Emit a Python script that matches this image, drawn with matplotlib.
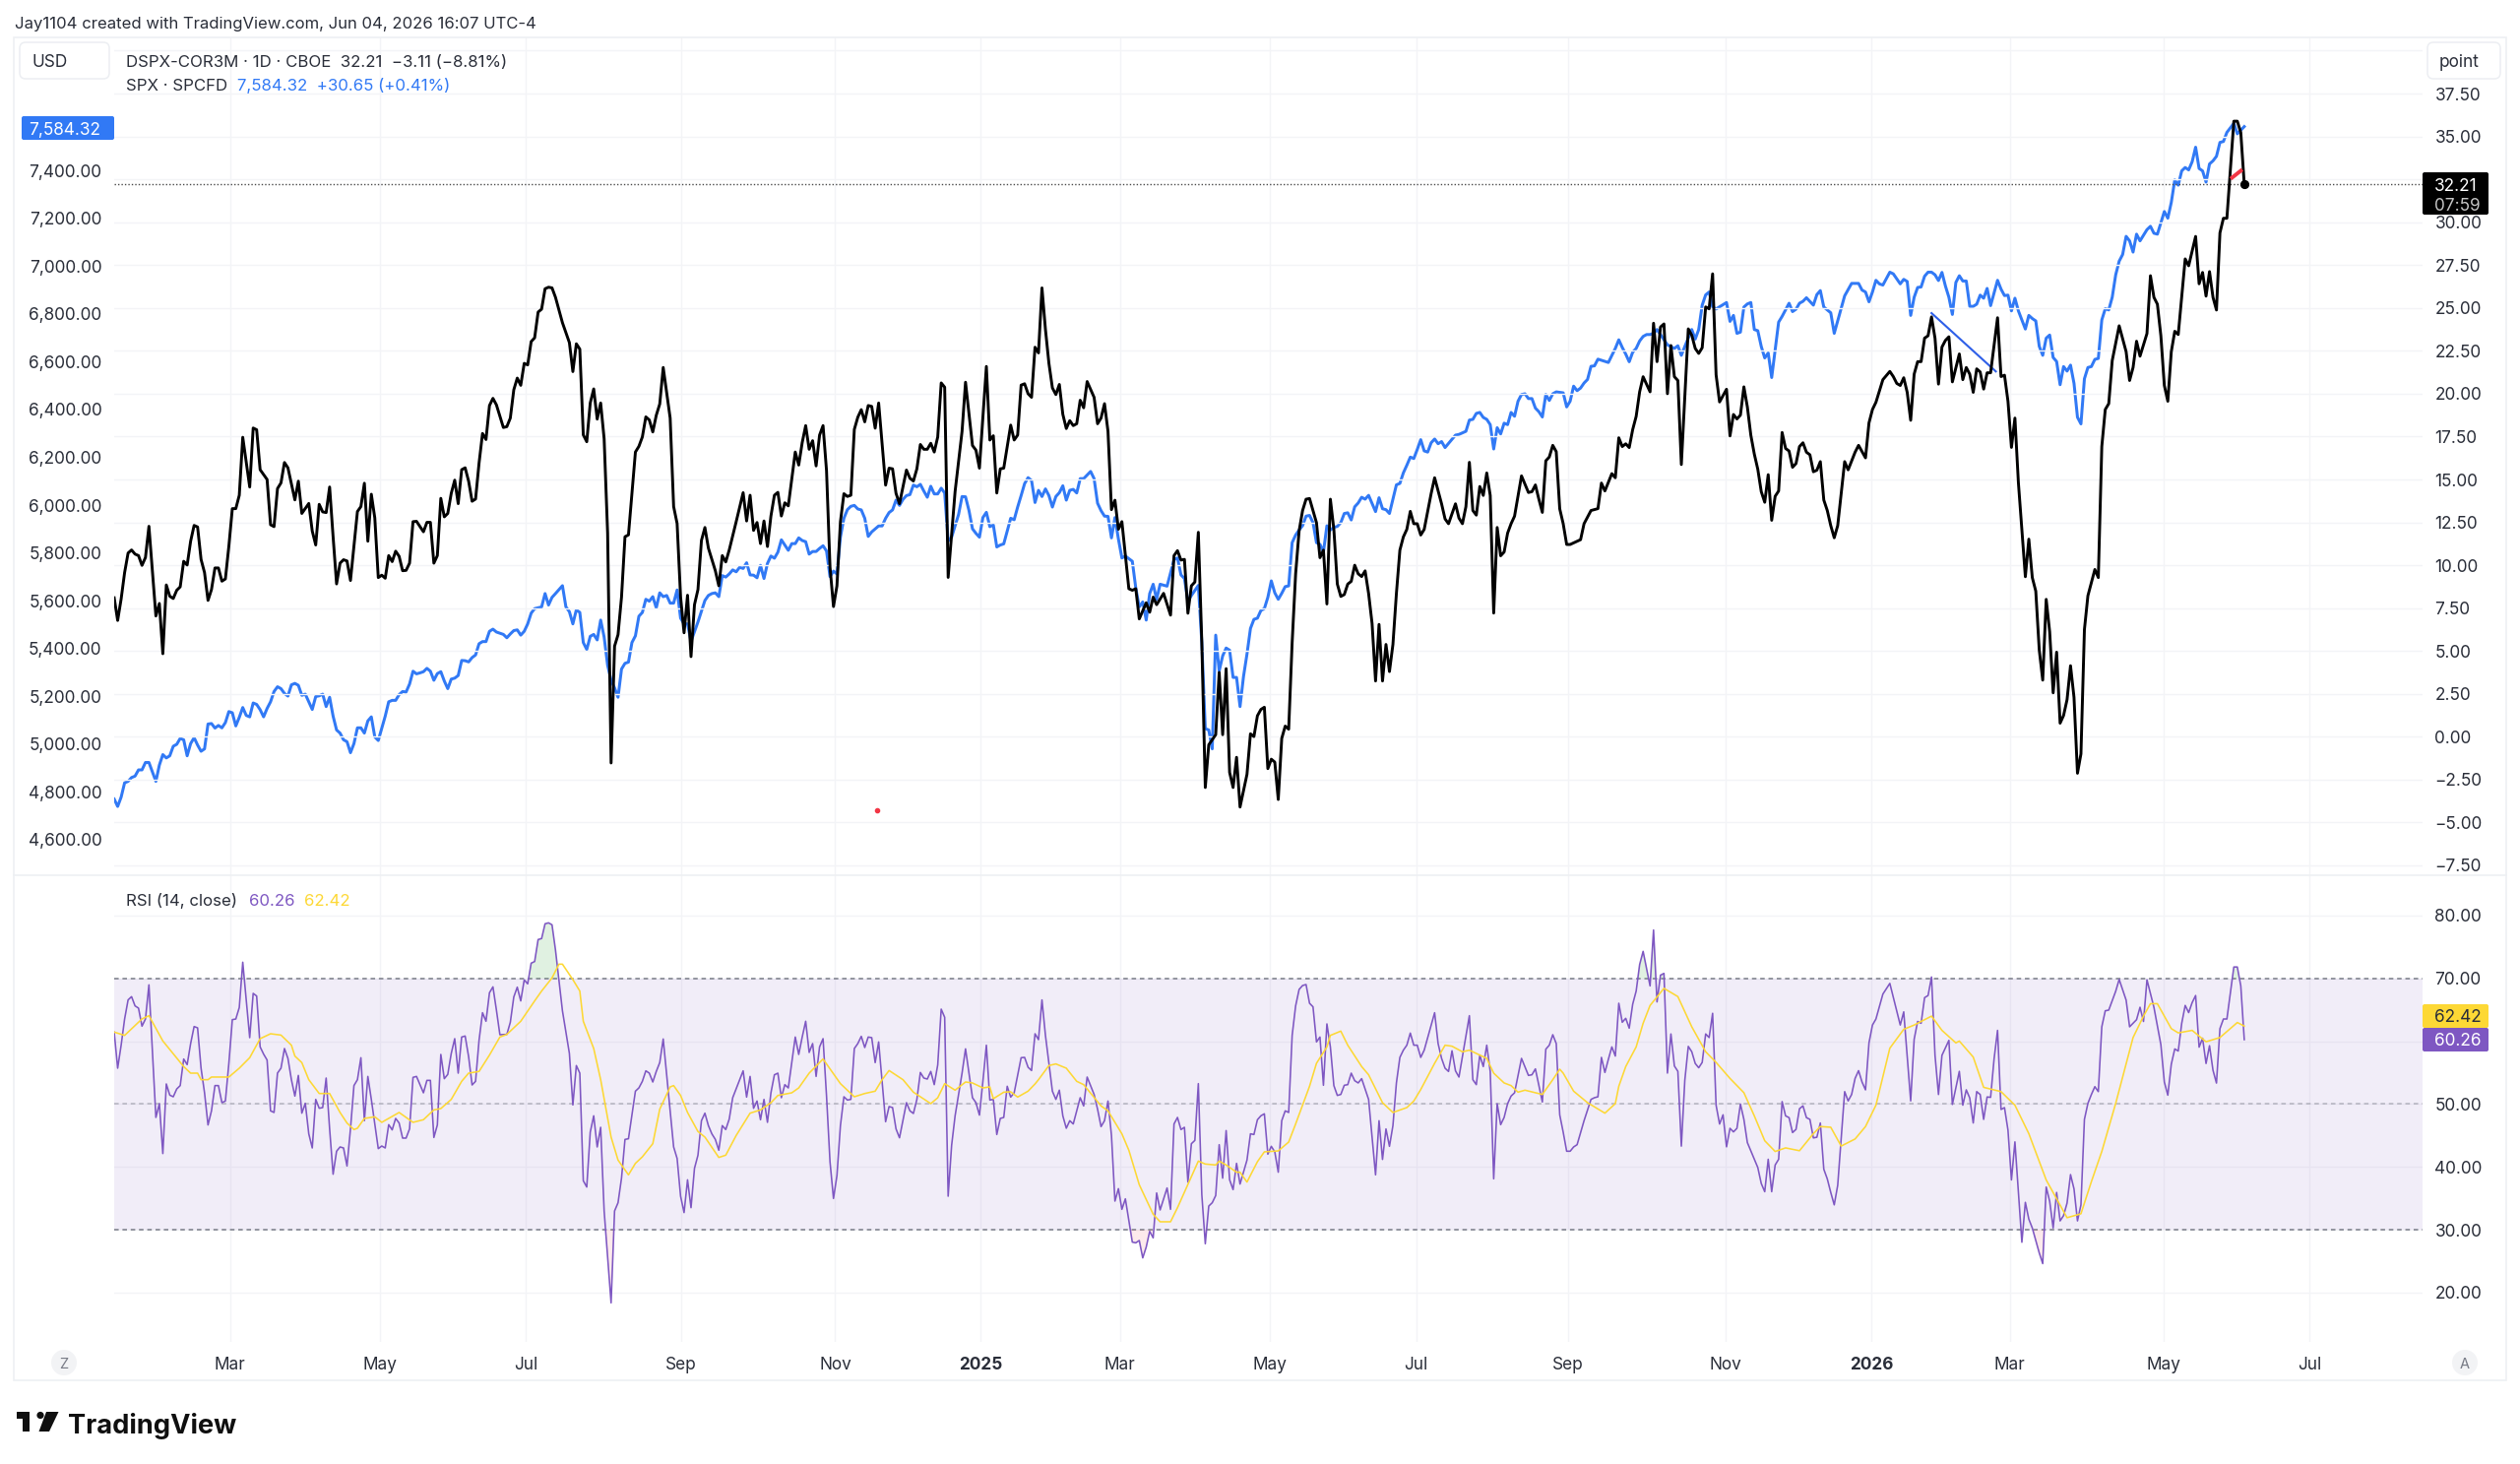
import numpy as np
import matplotlib
matplotlib.use("Agg")
import matplotlib.pyplot as plt
from matplotlib.patches import FancyBboxPatch, Polygon, Circle, Rectangle

plt.rcParams['font.family'] = ['Inter', 'DejaVu Sans']

# (bar number, value), bar 0 = first bar on the chart
dspx_points = [
(0,8.10),(1,6.78),(2,8.03),(3,9.57),(4,10.71),(5,10.89),(6,10.65),(7,10.56),(8,9.99),(9,10.45),(10,12.27),(12,7.04),(13,7.77),(14,4.84),(15,8.85),(16,8.19),(17,8.06),(18,8.54),(19,8.74),(20,10.23),
(21,10.01),(22,11.40),(23,12.32),(24,12.23),(25,10.34),(26,9.57),(27,7.95),(28,8.58),(29,9.84),(30,9.84),(31,9.07),(32,9.2),(33,11.11),(34,13.3),(35,13.3),(36,14.08),(37,17.46),(39,14.56),(40,18.0),(41,17.9),
(42,15.57),(43,15.29),(44,15.0),(45,12.36),(46,12.25),(47,14.47),(48,14.8),(49,15.99),(50,15.68),(51,14.74),(52,13.81),(53,14.9),(54,13.02),(56,13.6),(57,11.99),(58,11.18),(59,13.55),(60,13.11),(61,13.07),(62,14.56),
(63,11.66),(64,8.91),(65,10.12),(66,10.32),(67,10.25),(68,9.11),(69,11.11),(70,13.13),(71,13.42),(72,14.78),(73,11.4),(74,14.14),(75,12.76),(76,9.28),(77,9.42),(78,9.24),(79,10.56),(80,10.21),(81,10.82),(82,10.52),
(83,9.68),(84,9.7),(85,10.12),(86,12.54),(87,12.56),(89,11.95),(90,12.5),(91,12.5),(92,10.12),(93,10.56),(94,13.9),(95,12.82),(96,13.02),(97,14.19),(98,14.96),(99,13.59),(100,15.57),(101,15.68),(102,14.9),(103,13.73),
(104,13.86),(105,15.95),(106,17.68),(107,17.33),(108,19.31),(109,19.73),(110,19.35),(112,18.03),(113,18.08),(114,18.58),(115,20.23),(116,20.91),(117,20.49),(118,21.77),(119,21.68),(120,23.04),(121,23.26),(122,24.76),(123,24.93),(124,26.12),
(125,26.21),(126,26.17),(127,25.62),(129,24.14),(131,22.98),(132,21.29),(133,22.91),(134,22.6),(135,17.6),(136,17.2),(137,19.46),(138,20.28),(139,18.52),(140,19.46),(141,17.37),(142,11.88),(143,-1.53),(144,5.28),(145,5.95),(146,8.14),
(147,11.66),(148,11.77),(150,16.6),(151,16.93),(152,17.48),(153,18.65),(154,18.47),(155,17.77),(156,18.74),(157,19.4),(158,21.53),(160,18.58),(161,13.42),(162,12.43),(163,8.14),(164,6.06),(165,8.25),(166,4.67),(167,7.7),(168,8.58),
(169,11.44),(170,12.2),(171,11.0),(172,10.34),(173,9.68),(174,8.8),(175,10.56),(176,10.19),(177,10.89),(179,12.54),(181,14.23),(182,12.58),(183,14.08),(184,12.03),(185,12.49),(186,11.26),(187,12.58),(188,11.09),(189,12.87),(190,14.08),
(191,14.25),(192,12.87),(193,13.64),(194,13.46),(196,16.6),(197,15.84),(198,17.15),(199,18.14),(200,16.76),(201,17.26),(202,15.79),(203,17.59),(204,18.14),(205,15.51),(206,9.9),(207,7.59),(208,8.8),(209,12.54),(210,14.17),(211,14.01),
(212,14.08),(213,17.92),(214,18.63),(215,19.07),(216,18.36),(217,19.31),(218,19.26),(219,17.99),(220,19.46),(222,14.67),(223,15.66),(224,15.62),(225,14.19),(226,13.59),(228,15.55),(229,15.07),(230,14.91),(231,15.62),(232,17.04),(233,16.76),
(234,16.76),(235,17.11),(236,16.6),(237,17.48),(238,20.63),(239,20.38),(240,9.29),(242,14.3),(244,17.8),(245,20.67),(247,16.98),(248,16.71),(249,15.66),(251,21.59),(252,17.3),(253,17.55),(254,14.21),(255,15.62),(256,15.66),(258,18.17),
(259,17.3),(260,17.59),(261,20.5),(262,20.58),(263,20.0),(264,19.79),(265,22.71),(266,22.38),(267,26.17),(268,23.75),(269,21.77),(270,20.34),(271,19.95),(272,20.54),(273,18.8),(274,17.97),(275,18.43),(276,18.14),(277,18.25),(278,19.62),
(279,19.18),(280,20.71),(282,19.79),(283,18.25),(284,18.58),(285,19.42),(286,17.81),(287,13.24),(288,13.79),(289,12.1),(290,12.54),(291,10.56),(292,8.63),(293,8.54),(294,8.63),(295,6.87),(297,7.81),(298,7.26),(299,8.14),(300,7.7),
(302,8.36),(304,7.09),(305,10.56),(306,10.85),(307,10.3),(308,10.34),(309,7.2),(310,8.8),(311,9.02),(312,11.92),(313,5.5),(314,-2.96),(315,-0.47),(317,0.12),(318,3.75),(319,0.12),(320,3.97),(321,-2.08),(322,-2.96),(323,-1.2),
(324,-4.1),(326,-2.19),(327,0.17),(328,0.01),(329,1.22),(330,1.59),(331,1.72),(332,-1.86),(333,-1.31),(334,-1.48),(335,-3.66),(336,-0.1),(337,0.62),(338,0.44),(339,5.5),(340,9.5),(341,12.0),(342,13.19),(343,13.85),(344,13.89),
(346,12.48),(347,10.44),(348,10.88),(349,7.74),(350,13.85),(351,12.09),(352,8.9),(353,8.18),(354,8.29),(355,8.9),(356,9.06),(357,10.0),(358,9.5),(359,9.34),(360,9.67),(361,8.35),(362,6.6),(363,3.25),(364,6.55),(365,3.25),
(366,5.38),(367,3.8),(368,5.38),(369,8.35),(370,10.88),(371,11.65),(372,12.09),(373,13.14),(374,12.42),(375,12.42),(376,11.76),(377,12.09),(379,14.18),(380,15.1),(382,13.58),(383,12.7),(384,12.42),(386,13.58),(387,12.75),(388,12.42),
(389,13.41),(390,16.0),(391,13.19),(392,12.92),(393,14.59),(394,14.07),(395,15.38),(396,14.07),(397,7.21),(398,12.2),(399,10.55),(400,10.77),(401,11.87),(402,12.42),(403,12.86),(405,15.21),(407,14.24),(408,14.29),(409,14.68),(410,13.85),
(411,13.08),(412,16.09),(413,16.31),(414,16.99),(415,16.62),(416,13.29),(417,12.42),(418,11.21),(419,11.21),(422,11.49),(423,12.42),(425,13.19),(427,13.3),(428,14.79),(429,14.33),(431,15.34),(432,15.1),(433,17.43),(434,16.92),(435,17.08),
(436,16.86),(437,17.91),(438,18.68),(439,20.11),(440,20.99),(442,20.11),(443,24.11),(444,21.87),(445,23.89),(446,24.07),(447,20.0),(448,22.81),(449,20.99),(450,20.77),(451,15.87),(453,23.78),(454,23.41),(455,22.64),(456,22.35),(457,22.68),
(458,25.06),(459,24.95),(460,26.99),(461,21.1),(462,19.52),(464,20.26),(465,17.54),(466,18.79),(467,18.53),(468,18.75),(469,20.4),(470,19.23),(471,17.58),(472,16.48),(473,15.6),(474,14.29),(475,13.67),(476,15.28),(477,12.62),(478,14.02),
(479,14.33),(480,17.74),(481,16.81),(482,16.66),(483,15.71),(484,15.93),(485,16.92),(486,17.14),(487,16.59),(488,16.44),(489,15.45),(490,15.54),(491,16.04),(492,13.8),(493,13.19),(494,12.31),(495,11.6),(496,12.31),(498,16.04),(499,15.56),
(501,16.59),(502,16.99),(504,16.26),(505,18.3),(506,19.08),(507,19.5),(509,20.82),(511,21.3),(512,21.0),(513,20.6),(514,20.48),(515,20.93),(516,20.08),(517,18.45),(518,21.14),(519,21.87),(520,21.87),(521,23.24),(522,23.38),(523,24.48),
(524,23.24),(525,20.56),(526,22.72),(527,23.11),(528,23.32),(529,20.69),(531,22.32),(532,20.82),(533,21.53),(534,21.14),(535,20.08),(536,21.45),(537,21.27),(538,20.27),(539,21.22),(540,21.22),(542,24.43),(543,21.0),(544,21.08),(545,19.56),
(546,16.87),(547,18.58),(548,14.81),(550,9.33),(551,11.52),(552,9.28),(553,8.49),(554,5.06),(555,3.3),(556,8.01),(557,6.12),(558,2.56),(559,4.93),(560,0.79),(561,1.24),(562,2.16),(563,4.14),(564,2.3),(565,-2.13),(566,-1.0),
(567,6.25),(568,8.22),(570,9.75),(571,9.28),(572,16.92),(573,19.08),(574,19.42),(575,21.93),(577,23.96),(579,22.45),(580,20.77),(581,21.53),(582,23.06),(583,22.19),(585,23.51),(586,26.88),(587,25.62),(588,25.22),(589,23.38),(590,20.48),
(591,19.56),(592,22.45),(593,23.64),(594,23.45),(596,27.86),(597,27.46),(599,29.17),(600,26.41),(601,27.07),(602,25.69),(603,27.12),(604,25.62),(605,24.88),(606,29.38),(607,30.23),(608,30.23),(610,35.89),(611,35.89),(612,35.23),(613,32.21),
]

spx_points = [
(0,4770),(1,4739),(2,4778),(3,4838),(4,4844),(5,4860),(6,4866),(7,4892),(8,4892),(9,4923),(10,4923),(12,4844),(13,4912),(14,4956),(15,4942),(16,4951),(17,4991),(18,4999),(19,5024),(20,5018),
(21,4951),(22,5002),(23,5027),(24,4996),(25,4970),(26,4980),(27,5084),(28,5086),(29,5067),(30,5078),(31,5068),(32,5090),(33,5136),(34,5131),(35,5076),(36,5112),(37,5153),(38,5120),(39,5114),(40,5172),
(41,5166),(42,5144),(43,5114),(44,5149),(45,5177),(46,5220),(47,5240),(48,5232),(49,5212),(50,5201),(51,5248),(52,5254),(53,5246),(54,5204),(55,5209),(57,5145),(58,5199),(59,5202),(60,5209),(61,5157),
(62,5196),(63,5117),(64,5059),(65,5046),(66,5018),(67,5010),(68,4964),(69,5002),(70,5068),(71,5068),(72,5046),(73,5097),(74,5114),(75,5030),(76,5015),(78,5117),(79,5177),(80,5183),(81,5183),(82,5207),
(83,5220),(84,5218),(85,5251),(86,5305),(87,5294),(88,5298),(89,5303),(90,5317),(91,5305),(92,5267),(93,5295),(94,5303),(95,5264),(96,5232),(97,5272),(98,5276),(99,5287),(100,5350),(101,5349),(102,5344),
(103,5362),(104,5373),(105,5420),(106,5429),(107,5429),(108,5472),(109,5481),(110,5469),(112,5459),(113,5445),(114,5461),(115,5475),(116,5478),(117,5456),(118,5472),(119,5503),(120,5548),(121,5567),(123,5574),(124,5630),
(125,5582),(126,5614),(127,5630),(129,5663),(130,5574),(131,5554),(132,5503),(133,5562),(134,5551),(135,5425),(136,5396),(137,5451),(138,5459),(139,5436),(140,5519),(141,5448),(142,5330),(143,5267),(144,5235),(145,5196),
(146,5314),(147,5338),(148,5343),(149,5425),(150,5453),(151,5535),(152,5551),(153,5606),(154,5598),(155,5617),(156,5570),(157,5633),(158,5617),(159,5622),(160,5590),(161,5590),(162,5645),(163,5527),(164,5503),(165,5503),
(166,5430),(168,5511),(170,5601),(171,5622),(172,5630),(173,5633),(174,5617),(175,5705),(176,5699),(177,5712),(178,5729),(179,5721),(180,5740),(181,5735),(182,5759),(183,5708),(184,5707),(185,5696),(186,5748),(187,5693),
(188,5756),(189,5787),(190,5778),(191,5803),(192,5855),(194,5811),(195,5839),(196,5839),(197,5863),(198,5852),(199,5847),(200,5795),(201,5806),(202,5806),(203,5819),(204,5830),(205,5808),(206,5701),(207,5724),(208,5712),
(209,5866),(210,5945),(211,5981),(212,5995),(213,5999),(214,5984),(215,5980),(216,5945),(217,5869),(218,5888),(220,5913),(221,5913),(222,5945),(223,5969),(224,5980),(225,6021),(226,5999),(227,6024),(228,6040),(229,6044),
(230,6084),(231,6077),(232,6087),(233,6059),(234,6033),(235,6079),(236,6047),(237,6047),(238,6071),(239,6051),(240,5850),(241,5866),(243,5961),(244,6036),(245,6035),(246,5977),(247,5901),(248,5882),(249,5866),(250,5948),
(251,5970),(252,5910),(253,5917),(254,5825),(255,5833),(256,5838),(258,5945),(259,5939),(260,5992),(261,6040),(262,6090),(263,6115),(264,6103),(265,6011),(266,6062),(267,6036),(268,6068),(269,6040),(270,5992),(271,6036),
(272,6052),(273,6081),(274,6021),(275,6062),(276,6066),(277,6051),(278,6111),(279,6111),(280,6126),(281,6141),(282,6111),(283,6008),(284,5977),(285,5954),(286,5953),(287,5863),(288,5948),(289,5858),(290,5779),(291,5787),
(293,5765),(294,5653),(295,5574),(296,5595),(297,5519),(298,5630),(299,5669),(300,5606),(301,5669),(303,5661),(305,5772),(306,5779),(307,5708),(308,5693),(309,5598),(310,5622),(312,5664),(313,5425),(314,5065),(315,5059),
(316,4980),(317,5456),(318,5306),(319,5369),(320,5402),(321,5393),(322,5279),(323,5279),(324,5157),(325,5283),(326,5377),(327,5484),(328,5522),(329,5527),(330,5559),(331,5567),(332,5614),(333,5683),(334,5633),(335,5606),
(336,5631),(337,5659),(338,5662),(339,5843),(340,5875),(341,5896),(342,5914),(343,5954),(344,5957),(345,5927),(346,5843),(347,5836),(348,5804),(349,5914),(350,5896),(351,5907),(352,5911),(353,5927),(354,5965),(355,5968),
(356,5938),(357,5993),(358,6009),(359,6033),(360,6025),(361,6041),(363,5973),(364,6031),(365,5985),(366,5981),(367,5965),(368,6025),(369,6085),(370,6091),(371,6135),(372,6167),(373,6201),(374,6195),(375,6233),(376,6274),
(377,6227),(378,6222),(379,6261),(380,6277),(381,6257),(382,6266),(383,6241),(386,6293),(387,6296),(389,6309),(390,6356),(391,6359),(392,6384),(393,6388),(394,6367),(395,6359),(396,6337),(397,6235),(398,6324),(399,6298),
(400,6343),(401,6337),(402,6388),(403,6372),(404,6435),(405,6463),(406,6466),(407,6446),(408,6446),(409,6406),(410,6391),(411,6369),(412,6463),(413,6438),(414,6466),(415,6474),(417,6470),(418,6411),(419,6435),(420,6498),
(421,6479),(422,6490),(423,6511),(424,6526),(425,6581),(426,6583),(427,6611),(430,6597),(431,6627),(432,6656),(433,6692),(434,6660),(435,6632),(436,6600),(437,6640),(438,6656),(439,6687),(440,6706),(441,6714),(442,6714),
(443,6719),(444,6735),(447,6671),(449,6656),(450,6667),(451,6627),(452,6664),(454,6735),(455,6695),(456,6735),(457,6837),(458,6880),(459,6892),(460,6829),(461,6821),(464,6848),(465,6769),(466,6794),(467,6719),(468,6724),
(469,6829),(470,6842),(471,6848),(472,6735),(473,6730),(474,6664),(475,6616),(476,6637),(477,6534),(479,6766),(480,6790),(482,6845),(483,6810),(484,6820),(485,6845),(486,6853),(487,6868),(489,6837),(490,6881),(491,6898),
(492,6829),(494,6805),(495,6719),(498,6876),(500,6928),(502,6928),(503,6900),(504,6892),
(505,6851),(506,6892),(507,6941),(508,6926),(509,6921),(511,6975),(512,6968),(514,6926),(515,6945),(516,6936),(517,6794),(518,6870),(519,6911),(520,6913),(521,6958),(522,6975),(523,6975),(524,6964),(525,6940),(526,6974),
(527,6917),(528,6870),(529,6798),(530,6932),(531,6960),(532,6938),(533,6938),(534,6832),(535,6832),(536,6841),(537,6879),(538,6866),(539,6907),(540,6835),(542,6941),(543,6904),(544,6877),(545,6879),(546,6813),(547,6866),
(548,6813),(550,6737),(551,6794),(552,6781),(553,6771),(554,6665),(555,6627),(556,6699),(557,6712),(558,6618),(559,6601),(560,6504),(561,6580),(562,6561),(563,6586),(564,6510),(565,6368),(566,6340),(567,6529),(568,6576),
(569,6580),(570,6610),(571,6614),(572,6775),(573,6822),(574,6817),(575,6870),(576,6964),(577,7021),(578,7049),(579,7125),(580,7106),(581,7059),(582,7134),(583,7106),(585,7153),(586,7167),(587,7138),(588,7134),(589,7182),
(590,7229),(591,7201),(592,7267),(593,7361),(594,7339),(595,7399),(596,7413),(597,7403),(598,7437),(599,7498),(600,7409),(601,7399),(602,7352),(603,7428),(604,7441),(605,7460),(606,7518),(607,7522),(608,7560),(610,7598),
(611,7554),(613,7584.32),
]

rsi_points = [
(0,61.46),(1,55.71),(2,59.37),(3,63.54),(4,66.58),(5,67.1),(6,65.63),(7,65.27),(8,62.4),(9,63.54),(10,68.98),(12,47.87),(13,50.06),(14,42.12),(15,53.2),(16,51.42),(17,51.16),(18,52.4),(19,52.94),(20,57.17),
(21,56.28),(22,59.63),(23,62.34),(24,62.13),(25,55.71),(26,51.79),(27,46.67),(28,48.92),(29,52.94),(30,52.94),(31,50.22),(32,50.48),(33,56.49),(34,63.44),(35,63.54),(36,65.37),(37,72.58),(39,60.57),(40,67.62),(41,67.2),
(42,59.1),(43,57.95),(44,57.01),(45,48.92),(46,48.66),(47,54.93),(48,55.71),(49,58.84),(50,57.27),(51,53.88),(52,51.27),(53,54.56),(54,48.55),(55,50.12),(56,45.26),(57,43.01),(58,50.74),(59,49.33),(60,49.44),(61,54.14),
(62,46.04),(63,38.83),(64,42.49),(65,43.17),(66,43.01),(67,40.14),(68,46.04),(69,52.94),(70,53.88),(71,57.38),(72,47.35),(73,54.4),(74,50.74),(76,42.9),(77,43.32),(78,43.01),(79,46.72),(80,45.89),(81,47.71),(82,46.98),
(83,44.58),(84,44.58),(85,46.04),(86,54.25),(87,54.4),(89,51.79),(90,53.77),(91,53.77),(92,44.68),(93,46.67),(94,57.9),(95,54.04),(96,54.72),(97,58.06),(98,60.41),(99,54.92),(100,60.67),(101,60.83),(102,57.54),(103,53.04),
(104,53.62),(105,60.15),(106,64.54),(107,63.18),(108,67.72),(109,68.66),(110,64.96),(111,61.04),(113,61.09),(114,63.02),(115,67.05),(116,68.61),(117,66.42),(118,69.76),(119,69.14),(120,72.43),(121,72.69),(122,76.19),(123,76.35),(124,78.7),
(125,78.85),(126,78.54),(127,74.52),(129,64.85),(131,58.06),(132,49.86),(133,56.13),(134,54.92),(135,37.79),(136,36.79),(137,45.52),(138,48.13),(139,43.17),(140,46.3),(141,32.98),(143,18.35),(144,32.98),(145,34.29),(146,38.2),(147,44.37),
(148,44.48),(150,52.05),(151,52.57),(152,53.62),(153,55.29),(154,54.92),(155,53.51),(156,55.19),(157,56.6),(158,60.36),(161,43.17),(162,41.34),(163,35.33),(164,32.72),(165,37.94),(166,33.5),(167,39.77),(168,41.86),(169,47.35),(170,48.55),
(171,46.57),(172,45.26),(173,44.37),(174,42.65),(175,46.57),(176,45.94),(177,47.61),(178,51.01),(181,55.29),(182,51.11),(183,54.4),(184,49.33),(185,50.48),(186,47.5),(187,50.74),(188,47.09),(189,51.79),(190,54.66),(191,54.92),(192,51.01),
(193,53.09),(194,52.57),(196,60.67),(197,57.9),(198,60.67),(199,63.18),(200,58.22),(201,59.63),(202,54.4),(203,59.1),(204,60.41),(205,51.27),(206,40.82),(207,34.97),(208,38.62),(209,46.57),(210,51.16),(211,50.64),(212,50.74),(213,58.84),
(214,59.63),(215,60.78),(216,59.0),(217,60.67),(218,60.57),(219,56.6),(220,59.89),(222,47.19),(223,49.6),(224,49.44),(225,46.04),(226,44.63),(228,50.22),(229,48.92),(230,48.5),(231,50.74),(232,55.03),(233,54.14),(234,53.98),(235,55.19),
(236,53.09),(237,56.23),(238,65.11),(239,63.81),(240,35.33),(241,43.43),(242,48.13),(244,54.92),(245,58.79),(247,51.01),(248,50.22),(249,48.24),(250,53.62),(251,59.37),(252,50.64),(253,50.74),(254,45.15),(255,47.71),(256,47.87),(257,52.83),
(258,51.11),(259,51.79),(261,57.38),(262,57.43),(263,55.86),(264,55.34),(265,61.19),(266,60.25),(267,66.58),(268,60.93),(269,56.49),(270,52.05),(271,50.74),(272,52.21),(273,48.13),(274,46.15),(275,47.35),(276,46.83),(278,51.01),(279,49.7),
(280,54.3),(282,51.53),(283,49.18),(284,46.41),(285,47.35),(286,50.48),(287,45.0),(288,34.55),(289,36.53),(290,33.24),(291,34.91),(292,31.41),(293,28.02),(294,27.91),(295,28.28),(296,25.51),(297,27.23),(298,29.74),(299,28.7),(300,35.85),
(301,33.14),(303,36.64),(304,33.24),(305,46.83),(306,47.87),(307,45.94),(308,46.3),(309,37.58),(310,43.69),(311,44.21),(312,53.25),(313,35.59),(314,27.76),(315,33.76),(316,34.29),(317,35.44),(318,43.53),(319,38.2),(320,45.78),(321,37.94),
(322,36.38),(323,40.56),(324,37.26),(326,41.08),(327,45.26),(328,45.15),(329,47.5),(330,48.13),(331,48.45),(332,42.02),(333,43.27),(334,42.39),(335,39.15),(336,47.35),(337,48.92),(338,48.66),(339,60.93),(340,65.63),(341,68.25),(342,68.87),
(343,69.03),(344,66.05),(345,65.48),(346,59.89),(347,60.67),(348,52.99),(349,62.76),(350,59.1),(351,52.94),(352,51.37),(353,51.53),(354,52.99),(355,53.09),(356,54.92),(357,53.72),(358,53.36),(359,54.04),(361,50.74),(363,38.73),(364,47.35),
(365,41.18),(366,46.04),(367,43.27),(368,46.57),(369,53.36),(370,57.43),(371,58.58),(372,59.37),(373,61.3),(374,59.37),(375,59.37),(376,57.43),(377,58.58),(380,64.54),(381,59.63),(382,57.27),(383,55.71),(384,55.19),(385,58.48),(386,55.29),
(387,54.3),(390,64.07),(391,53.88),(392,53.09),(393,57.8),(394,55.97),(395,59.37),(396,55.19),(397,38.1),(398,50.06),(399,46.72),(400,47.87),(401,50.06),(402,51.27),(403,51.79),(405,57.27),(407,54.56),(408,54.66),(409,55.6),(411,50.33),
(412,58.74),(413,59.37),(414,61.04),(415,59.63),(416,48.29),(417,45.52),(418,42.49),(419,42.49),(420,43.17),(421,43.53),(423,47.35),(425,50.74),(426,51.01),(427,51.16),(428,57.43),(429,55.03),(430,57.12),(431,59.1),(432,57.64),(433,66.05),
(434,63.02),(435,63.65),(436,62.08),(437,65.9),(438,67.99),(439,72.21),(440,74.31),(442,68.81),(443,77.71),(444,66.26),(445,70.52),(446,70.8),(447,54.93),(448,61.16),(449,56.06),(450,55.21),(451,43.3),(452,53.79),(453,59.18),(454,58.33),
(455,56.46),(456,55.78),(457,56.63),(458,61.16),(459,60.59),(460,64.45),(461,49.82),(462,46.82),(463,48.29),(464,43.19),(465,46.14),(466,45.57),(467,46.14),(468,50.0),(469,47.56),(470,43.87),(473,39.9),(474,37.35),(475,36.05),(476,41.21),
(477,36.05),(478,40.3),(479,41.21),(480,50.39),(481,48.12),(482,47.84),(483,45.46),(484,45.97),(485,49.26),(486,49.71),(487,47.84),(488,47.56),(489,44.61),(490,44.72),(491,46.99),(492,39.62),(493,38.09),(494,35.93),(495,33.95),(496,37.07),
(498,51.98),(499,50.5),(500,51.52),(501,54.08),(502,55.32),(503,53.51),(504,52.26),(505,59.74),(506,62.58),(507,63.54),(509,67.51),(511,69.21),(514,62.58),(515,64.68),(517,50.5),(518,60.31),(519,63.15),(520,62.86),(521,66.94),(522,67.28),
(523,70.23),(524,57.76),(525,51.52),(526,57.76),(528,60.14),(529,49.94),(531,55.21),(532,49.82),(533,52.26),(534,50.96),(535,46.99),(536,51.98),(537,51.52),(538,47.56),(539,51.13),(540,51.07),(541,57.19),(542,61.73),(543,49.14),(544,49.43),
(545,45.86),(546,37.92),(547,43.98),(549,28.0),(550,34.35),(551,31.68),(552,30.27),(554,26.3),(555,24.6),(556,36.79),(557,34.52),(558,30.27),(559,35.93),(560,31.4),(561,32.25),(562,34.23),(563,38.77),(564,36.5),(565,31.4),(566,33.95),
(567,47.56),(568,50.11),(569,51.52),(570,52.77),(571,51.98),(572,62.3),(573,64.85),(574,64.96),(576,67.96),(577,69.84),(579,66.55),(580,62.3),(582,63.43),(583,65.41),(584,63.15),(585,69.78),(587,65.41),(589,59.46),(590,53.51),(591,51.41),
(592,56.34),(593,58.78),(594,58.44),(595,62.86),(596,65.7),(597,64.56),(598,66.15),(599,67.28),(600,59.06),(601,60.48),(602,56.46),(603,59.29),(604,55.38),(605,53.34),(606,62.01),(607,63.54),(608,63.54),(610,71.82),(611,71.82),(612,68.81),(613,60.26),
]

rsi_ma_points = [
(0,61.46),(3,60.93),(5,61.98),(8,63.55),(10,64.07),(14,60.04),(16,58.69),(20,55.97),(22,54.92),(24,54.92),(25,53.88),(27,53.88),(28,54.3),(33,54.3),(36,55.71),(39,57.38),(42,60.41),(45,61.19),(48,60.98),(51,59.37),
(52,57.64),(54,56.6),(56,53.88),(59,51.68),(62,51.68),(65,48.66),(67,46.98),(69,45.94),(70,46.15),(72,47.71),(75,47.97),(77,47.09),(82,48.66),(86,47.09),(89,47.51),(92,49.07),(94,49.28),(97,50.74),(100,53.62),(102,54.92),
(105,55.19),(108,57.8),(111,60.67),(113,61.09),(117,63.18),(121,66.42),(123,67.99),(126,70.08),(128,72.27),(129,72.27),(132,69.81),(134,67.99),(135,63.18),(138,58.84),(140,53.88),(143,44.74),(145,41.08),(148,38.73),(150,40.56),(152,41.6),
(155,43.69),(157,49.18),(160,52.73),(161,52.94),(163,51.37),(165,48.66),(168,45.63),(170,44.74),(174,41.5),(176,41.86),(179,45.0),(183,48.55),(186,49.07),(189,50.22),(191,51.37),(195,51.79),(197,52.57),(200,54.92),(204,57.17),(209,53.25),
(213,51.16),(216,51.68),(219,52.05),(221,53.88),(223,55.34),(227,53.88),(230,51.89),(235,50.07),(237,51.0),(239,53.25),(242,52.21),(245,53.51),(247,53.36),(250,52.57),(252,52.73),(253,50.85),(256,51.89),(258,51.95),(260,51.11),(263,52.05),
(265,53.2),(266,53.88),(269,56.13),(271,56.39),(274,55.71),(277,53.62),(279,53.09),(284,49.7),(286,48.92),(290,45.26),(292,42.65),(295,37.16),(299,32.46),(301,31.26),(304,31.26),(306,33.5),(310,38.47),(312,40.92),(314,40.45),(317,40.3),
(318,40.92),(320,40.3),(323,39.15),(324,39.15),(326,37.58),(329,40.82),(331,42.39),(335,42.54),(338,43.95),(340,46.83),(344,52.83),(346,56.49),(349,59.1),(350,60.93),(353,61.61),(355,59.37),(359,55.97),(361,54.66),(365,50.22),(368,48.66),
(372,49.44),(374,50.48),(376,52.31),(380,56.49),(383,59.37),(385,59.21),(388,58.32),(390,58.58),(395,57.27),(397,54.92),(400,53.36),(402,52.94),(404,51.89),(406,52.21),(411,51.53),(414,53.88),(416,55.55),(417,54.92),(420,52.05),(424,50.22),
(429,48.55),(432,50.07),(433,52.83),(435,55.97),(438,59.1),(440,62.86),(442,65.7),(446,68.42),(450,67.11),(454,62.3),(458,58.33),(461,56.63),(465,54.08),(469,51.81),(472,48.12),(475,44.16),(478,42.45),(481,43.02),(485,42.57),(489,45.29),
(491,46.42),(494,46.31),(497,43.31),(501,44.44),(504,46.42),(507,49.82),(511,58.89),(515,61.9),(518,62.58),(523,64.0),(526,61.73),(530,59.74),(531,60.03),(535,57.48),(538,52.66),(543,51.98),(547,49.82),(551,45.29),(556,37.92),(562,31.91),
(566,32.53),(569,37.64),(572,42.45),(576,50.11),(581,60.59),(584,64.0),(586,65.98),(588,65.98),(592,62.01),(594,61.33),(598,61.73),(602,59.92),(606,60.59),(611,62.98),(613,62.42),
]

# little drawings made on the chart, in bars and right scale points
trend_bars = [523, 541.5]
trend_vals = [24.7, 21.3]
red_mark_bars = [609.5, 612]
red_mark_vals = [32.6, 33.0]
red_dot_bar = [219.6]
red_dot_val = [-4.27]

left_ticks = list(range(4600, 7401, 200))
right_ticks = [37.5, 35, 30, 27.5, 25, 22.5, 20, 17.5, 15, 12.5, 10, 7.5, 5, 2.5, 0, -2.5, -5, -7.5]
right_grid = [40, 37.5, 35, 32.5, 30, 27.5, 25, 22.5, 20, 17.5, 15, 12.5, 10, 7.5, 5, 2.5, 0, -2.5, -5, -7.5]
rsi_ticks = [20, 30, 40, 50, 60, 70, 80]
month_bars = [33.3, 76.4, 118.4, 163.2, 207.5, 249.4, 289.4, 332.5, 374.7, 418.4, 463.6, 505.7, 545.5, 589.8, 631.7]
month_labels = ["Mar", "May", "Jul", "Sep", "Nov", "2025", "Mar", "May", "Jul", "Sep", "Nov", "2026", "Mar", "May", "Jul"]

dspx_x, dspx_y = zip(*dspx_points)
spx_x, spx_y = zip(*spx_points)
rsi_x, rsi_y = zip(*rsi_points)
ma_x, ma_y = zip(*rsi_ma_points)
rsi_x = np.array(rsi_x)
rsi_y = np.array(rsi_y)

W, H = 2560, 1487
BAR_PX = 3.53
TXT = "#2a2e39"
GRID = "#f3f4f7"
BLUE = "#3179f5"
PURPLE = "#7e57c2"
YELLOW = "#fdd835"
FS = 12.4
HEAD_FS = 12.1


def axes_px(x0, y0, x1, y1):
    return [x0 / W, 1 - y1 / H, (x1 - x0) / W, (y1 - y0) / H]


fig = plt.figure(figsize=(W / 100, H / 100), dpi=100, facecolor="white")

PANE_L, PANE_R = 116, 2461
TOP, SEP, BOT = 38, 889, 1363
xlim = (0, (PANE_R - PANE_L) / BAR_PX)

# main pane: SPX on the left scale, DSPX on the right scale
ax = fig.add_axes(axes_px(PANE_L, TOP, PANE_R, SEP))
ax_r = ax.twinx()
ax.set_xlim(xlim)
ax.set_ylim(7400 - (SEP - 173.3) / 0.2427, 7400 + (173.3 - TOP) / 0.2427)
ax_r.set_ylim((748.3 - SEP) / 17.42, (748.3 - TOP) / 17.42)
for a in (ax, ax_r):
    for s in a.spines.values():
        s.set_visible(False)
    a.tick_params(length=0, labelsize=FS, labelcolor=TXT)

ax.set_xticks(month_bars)
ax.set_xticklabels([])
ax.grid(axis="x", color=GRID, lw=1)
ax.set_yticks(left_ticks)
ax.set_yticklabels([f"{v:,.2f}" for v in left_ticks])
ax.tick_params(axis="y", pad=9)
for v in right_grid:
    ax_r.axhline(v, color=GRID, lw=1, zorder=0)
ax_r.set_yticks(right_ticks)
ax_r.set_yticklabels([f"{v:.2f}".replace("-", "\u2212") for v in right_ticks])
ax_r.tick_params(axis="y", pad=9)
ax.set_axisbelow(True)

ax.plot(spx_x, spx_y, color=BLUE, lw=2.15, solid_joinstyle="round")
ax_r.axhline(32.21, color="#4a4a4a", lw=1, ls=(0, (1, 1.5)), zorder=1)
ax_r.plot(trend_bars, trend_vals, color="#2e5fe8", lw=1.5, zorder=2)
ax_r.plot(dspx_x, dspx_y, color="black", lw=2.1, solid_joinstyle="round", zorder=3)
ax_r.plot(red_mark_bars, red_mark_vals, color="#f23645", lw=2.8, zorder=4)
ax_r.plot(red_dot_bar, red_dot_val, "o", color="#f23645", ms=3, zorder=4)
ax_r.plot(dspx_x[-1], dspx_y[-1], "o", color="black", ms=5.6, zorder=5)

# RSI pane
ax2 = fig.add_axes(axes_px(PANE_L, SEP, PANE_R, BOT))
ax2.set_xlim(xlim)
ax2.set_ylim(20 + (1312.8 - BOT) / 6.38, 20 + (1312.8 - SEP) / 6.38)
for s in ax2.spines.values():
    s.set_visible(False)
ax2.set_xticks(month_bars)
ax2.set_xticklabels(month_labels)
for lab, txt in zip(ax2.get_xticklabels(), month_labels):
    if txt.startswith("20"):
        lab.set_fontweight("bold")
ax2.yaxis.tick_right()
ax2.set_yticks(rsi_ticks)
ax2.set_yticklabels([f"{v:.2f}" for v in rsi_ticks])
ax2.tick_params(length=0, labelsize=FS, labelcolor=TXT)
ax2.tick_params(axis="y", pad=9)
ax2.tick_params(axis="x", pad=11)
ax2.grid(color=GRID, lw=1)
ax2.set_axisbelow(True)
ax2.axhspan(30, 70, color=PURPLE, alpha=0.1, lw=0, zorder=1)
ax2.axhline(70, color="#787b86", lw=1.1, ls=(0, (3, 2.5)), zorder=2)
ax2.axhline(50, color="#787b86", lw=1.1, ls=(0, (3, 2.5)), alpha=0.5, zorder=2)
ax2.axhline(30, color="#787b86", lw=1.1, ls=(0, (3, 2.5)), zorder=2)
ax2.fill_between(rsi_x, 70, rsi_y, where=rsi_y >= 70, interpolate=True, color="#4caf50", alpha=0.17, lw=0, zorder=2)
ax2.fill_between(rsi_x, 30, rsi_y, where=rsi_y <= 30, interpolate=True, color="#f23645", alpha=0.1, lw=0, zorder=2)
ax2.plot(rsi_x, rsi_y, color=PURPLE, lw=1.15, zorder=3)
ax2.plot(ma_x, ma_y, color=YELLOW, lw=1.15, zorder=4)

# everything round the chart, in picture pixels
ov = fig.add_axes([0, 0, 1, 1], facecolor="none")
ov.set_xlim(0, W)
ov.set_ylim(H, 0)
ov.axis("off")

ov.add_patch(Rectangle((14, 38), 2532, 1364, fill=False, ec="#eef0f3", lw=1.2))
ov.plot([14, 2546], [SEP, SEP], color="#eef0f3", lw=1.2)


def tag(x0, y0, x1, y1, color):
    ov.add_patch(FancyBboxPatch((x0 + 2, y0 + 2), x1 - x0 - 4, y1 - y0 - 4, boxstyle="round,pad=2,rounding_size=2",
                                fc=color, ec="none", zorder=5))


def button(x0, y0, x1, y1):
    ov.add_patch(FancyBboxPatch((x0 + 6, y0 + 6), x1 - x0 - 12, y1 - y0 - 12, boxstyle="round,pad=6,rounding_size=6",
                                fc="white", ec="#eceef2", lw=1.1, zorder=5))


ov.text(15, 25, "Jay1104 created with TradingView.com, Jun 04, 2026 16:07 UTC-4", fontsize=12.0, color=TXT, va="center")

button(20, 43, 111, 80)
ov.text(32, 64, "USD", fontsize=FS, color=TXT, va="center", zorder=6)
button(2466, 43, 2540, 80)
ov.text(2498, 63, "point", fontsize=FS, color=TXT, va="center", ha="center", zorder=6)

ov.text(128, 63, "DSPX-COR3M \u00b7 1D \u00b7 CBOE  32.21  \u22123.11 (\u22128.81%)", fontsize=HEAD_FS, color=TXT, va="center")
ov.text(128, 87, "SPX \u00b7 SPCFD", fontsize=HEAD_FS, color=TXT, va="center")
ov.text(241, 87, "7,584.32  +30.65 (+0.41%)", fontsize=HEAD_FS, color=BLUE, va="center")
ov.text(128, 915, "RSI (14, close)", fontsize=HEAD_FS, color=TXT, va="center")
ov.text(253, 915, "60.26", fontsize=HEAD_FS, color=PURPLE, va="center")
ov.text(309, 915, "62.42", fontsize=HEAD_FS, color=YELLOW, va="center")

tag(22, 118, 116, 142, BLUE)
ov.text(29, 132, "7,584.32", fontsize=FS, color="white", va="center", zorder=6)
tag(2461, 175, 2528, 218, "black")
ov.text(2473, 190, "32.21", fontsize=FS, color="white", va="center", zorder=6)
ov.text(2473, 209, "07:59", fontsize=FS, color="#c4c4c4", va="center", zorder=6)
tag(2461, 1020, 2528, 1044, YELLOW)
ov.text(2473, 1034, "62.42", fontsize=FS, color=TXT, va="center", zorder=6)
tag(2461, 1044, 2528, 1068, PURPLE)
ov.text(2473, 1058, "60.26", fontsize=FS, color="white", va="center", zorder=6)

ov.add_patch(Circle((65, 1384), 13, fc="#f2f3f5", ec="none"))
ov.text(65, 1386, "Z", fontsize=10.5, color="#787b86", va="center", ha="center")
ov.add_patch(Circle((2504, 1384), 13, fc="#f2f3f5", ec="none"))
ov.text(2504, 1386, "A", fontsize=10.5, color="#787b86", va="center", ha="center")

# TradingView logo
ov.add_patch(Polygon([(17, 1434), (30, 1434), (30, 1454), (23, 1454), (23, 1441), (17, 1441)], fc="#0f0f0f", ec="none"))
ov.add_patch(Circle((41, 1437.5), 3.6, fc="#0f0f0f", ec="none"))
ov.add_patch(Polygon([(47, 1434), (59.5, 1434), (50, 1454), (39.5, 1454)], fc="#0f0f0f", ec="none"))
ov.text(69, 1448, "TradingView", fontsize=19.6, fontweight="bold", color="#0f0f0f", va="center")

fig.savefig("out.png", dpi=100, facecolor="white")
